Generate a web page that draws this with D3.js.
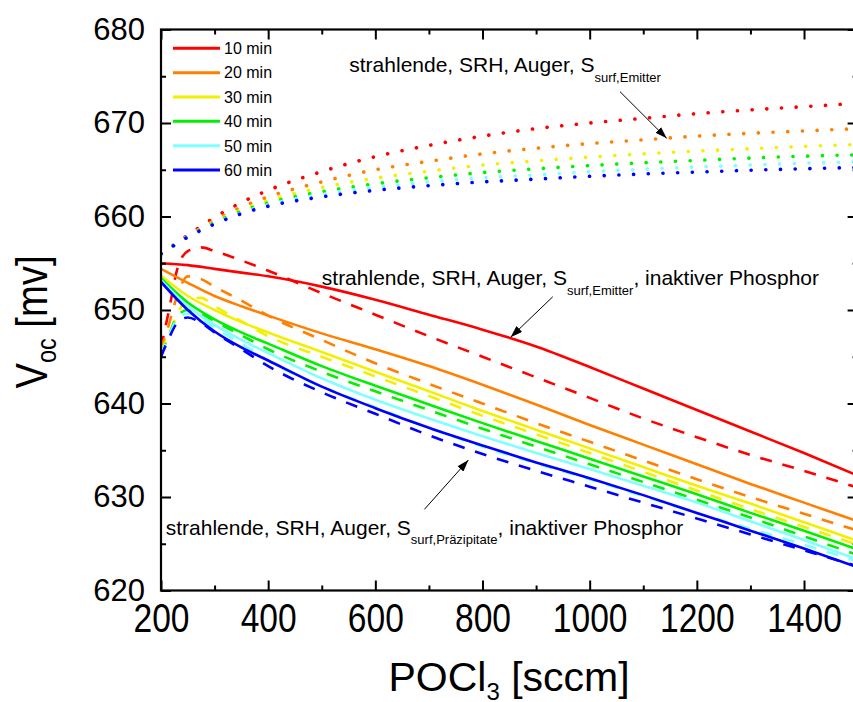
<!DOCTYPE html>
<html><head><meta charset="utf-8">
<script src="https://cdn.jsdelivr.net/npm/d3@7"></script>
<style>body{margin:0;background:#fff} svg text{font-family:"Liberation Sans",Arial,Helvetica,sans-serif;fill:#000}</style>
</head><body><svg id="c" width="853" height="702"></svg>
<script>
// ---------- data ----------
const times = ["10 min","20 min","30 min","40 min","50 min","60 min"];
const colors = ["#ff0000","#ff8000","#f0f000","#00f000","#80ffff","#0000ff"];

// x values (POCl3 flow, sccm) for dotted and solid curves
const poclA = [200,250,300,350,400,500,600,700,800,900,1000,1100,1200,1300,1400,1500];
// dotted: strahlende, SRH, Auger, S_surf,Emitter
const dot10 = [656.0,658.0,659.9,661.5,662.8,664.8,666.4,667.6,668.6,669.4,670.0,670.5,671.0,671.4,671.75,672.1];
const dot20 = [656.0,657.9,659.6,661.0,662.1,663.7,665.0,665.9,666.7,667.3,667.8,668.2,668.6,668.9,669.15,669.4];
const dot30 = [656.0,657.85,659.45,660.7,661.7,663.1,664.1,664.85,665.5,665.95,666.35,666.7,667.0,667.25,667.5,667.7];
const dot40 = [656.0,657.8,659.35,660.55,661.45,662.65,663.5,664.15,664.7,665.1,665.45,665.75,666.0,666.25,666.45,666.6];
const dot50 = [656.0,657.8,659.25,660.4,661.25,662.35,663.1,663.7,664.15,664.45,664.8,665.05,665.3,665.5,665.7,665.85];
const dot60 = [656.0,657.8,659.2,660.3,661.1,662.1,662.8,663.3,663.7,664.0,664.3,664.55,664.75,664.95,665.1,665.25];
// solid: ..., S_surf,Emitter, inaktiver Phosphor
const sol10 = [655.0,654.8,654.4,654.0,653.6,652.5,651.1,649.5,647.9,646.1,643.9,641.6,639.3,637.0,634.7,632.3];
const sol20 = [654.4,652.9,651.5,650.4,649.4,647.5,645.8,644.0,642.0,639.9,637.7,635.6,633.5,631.4,629.4,627.4];
const sol30 = [653.7,651.5,650.0,648.7,647.6,645.5,643.4,641.3,639.2,637.2,635.2,633.2,631.2,629.3,627.3,625.3];
const sol40 = [653.4,650.8,649.0,647.6,646.4,644.0,641.9,639.9,637.9,636.0,634.1,632.2,630.3,628.3,626.4,624.4];
const sol50 = [653.2,650.4,648.4,646.8,645.4,642.7,640.4,638.4,636.5,634.7,633.0,631.2,629.4,627.4,625.4,623.3];
const sol60 = [653.0,650.0,647.7,646.0,644.6,641.8,639.5,637.4,635.5,633.7,632.0,630.2,628.3,626.4,624.5,622.5];
// dashed: ..., S_surf,Präzipitate, inaktiver Phosphor
const poclB = [200,215,230,250,275,300,350,400,500,600,700,800,900,1000,1100,1200,1300,1400,1500];
const dash10 = [646.0,650.0,654.3,656.3,656.7,656.3,655.3,654.2,651.8,649.5,647.2,645.0,642.8,640.6,638.4,636.4,634.5,632.8,631.0];
const dash20 = [645.8,648.5,651.5,653.6,653.3,652.5,651.0,649.4,646.8,644.3,642.1,640.0,637.9,635.9,633.9,631.9,630.0,628.2,626.4];
const dash30 = [645.5,647.5,649.5,651.2,651.3,650.4,648.8,647.2,645.0,642.9,640.8,638.7,636.7,634.7,632.7,630.7,628.7,626.8,624.9];
const dash40 = [645.3,647.3,649.3,650.0,649.6,648.8,647.3,645.8,643.4,641.3,639.3,637.3,635.4,633.5,631.6,629.7,627.8,625.8,623.8];
const dash50 = [645.2,647.3,649.0,649.6,649.1,648.1,646.4,644.6,641.8,639.6,637.4,635.4,633.6,631.9,630.1,628.3,626.6,624.9,623.1];
const dash60 = [645.0,647.0,648.6,649.2,648.6,647.6,645.8,644.0,641.2,638.9,636.6,634.6,632.8,631.1,629.4,627.7,626.0,624.3,622.6];

const xTicks = [200,400,600,800,1000,1200,1400];
const xTickLabels = ["200","400","600","800","1000","1200","1400"];
const xMinor = [300,500,700,900,1100,1300];
const yTicks = [620,630,640,650,660,670,680];
const yTickLabels = ["620","630","640","650","660","670","680"];
const yMinor = [625,635,645,655,665,675];

// ---------- chart ----------
const svg = d3.select("#c");
const x = d3.scaleLinear().domain([200,1500]).range([161,857.6]);
const y = d3.scaleLinear().domain([620,680]).range([590.5,29.5]);
const X0 = x.range()[0], X1 = x.range()[1], Y0 = y.range()[1], Y1 = y.range()[0];

svg.append("defs").append("clipPath").attr("id","plot")
  .append("rect").attr("x",X0).attr("y",Y0).attr("width",X1-X0).attr("height",Y1-Y0);
svg.select("defs").append("marker").attr("id","arr").attr("viewBox","0 0 12 8")
  .attr("refX",12).attr("refY",4).attr("markerWidth",12).attr("markerHeight",8)
  .attr("markerUnits","userSpaceOnUse").attr("orient","auto")
  .append("path").attr("d","M0,0 L12,4 L0,8 Z").attr("fill","#000");

const gLines = svg.append("g").attr("clip-path","url(#plot)");
const line = d3.line().curve(d3.curveMonotoneX);
const dots = [dot10,dot20,dot30,dot40,dot50,dot60];
const sols = [sol10,sol20,sol30,sol40,sol50,sol60];
const dashes = [dash10,dash20,dash30,dash40,dash50,dash60];

dots.forEach((s,i)=>{
  gLines.append("path").attr("d",line(s.map((v,j)=>[x(poclA[j]),y(v)])))
    .attr("fill","none").attr("stroke",colors[i]).attr("stroke-width",3.6)
    .attr("stroke-linecap","round").attr("stroke-dasharray","0.1,14.6");
});
dashes.forEach((s,i)=>{
  gLines.append("path").attr("d",line(s.map((v,j)=>[x(poclB[j]),y(v)])))
    .attr("fill","none").attr("stroke",colors[i]).attr("stroke-width",2.6)
    .attr("stroke-dasharray","12,11");
});
sols.forEach((s,i)=>{
  gLines.append("path").attr("d",line(s.map((v,j)=>[x(poclA[j]),y(v)])))
    .attr("fill","none").attr("stroke",colors[i]).attr("stroke-width",2.6);
});

// axes
function styleAxis(g){ g.select(".domain").remove(); g.selectAll("line").attr("stroke","#000").attr("stroke-width",2); }
const gb = svg.append("g").attr("transform",`translate(0,${Y1})`)
  .call(d3.axisBottom(x).tickValues(xTicks).tickFormat((d,i)=>xTickLabels[i]).tickSizeInner(-10).tickSizeOuter(0).tickPadding(13));
styleAxis(gb);
gb.selectAll("text").attr("font-size",40).attr("transform","scale(0.84,1)");
svg.append("g").attr("transform",`translate(0,${Y1})`)
  .call(d3.axisBottom(x).tickValues(xMinor).tickFormat("").tickSizeInner(-5).tickSizeOuter(0)).call(styleAxis);
svg.append("g").attr("transform",`translate(0,${Y0})`)
  .call(d3.axisTop(x).tickValues(xTicks).tickFormat("").tickSizeInner(-10).tickSizeOuter(0)).call(styleAxis);
svg.append("g").attr("transform",`translate(0,${Y0})`)
  .call(d3.axisTop(x).tickValues(xMinor).tickFormat("").tickSizeInner(-5).tickSizeOuter(0)).call(styleAxis);
const gl = svg.append("g").attr("transform",`translate(${X0},0)`)
  .call(d3.axisLeft(y).tickValues(yTicks).tickFormat((d,i)=>yTickLabels[i]).tickSizeInner(-10).tickSizeOuter(0).tickPadding(16));
styleAxis(gl);
gl.selectAll("text").attr("font-size",31);
svg.append("g").attr("transform",`translate(${X0},0)`)
  .call(d3.axisLeft(y).tickValues(yMinor).tickFormat("").tickSizeInner(-5).tickSizeOuter(0)).call(styleAxis);
svg.append("g").attr("transform",`translate(${X1},0)`)
  .call(d3.axisRight(y).tickValues(yTicks).tickFormat("").tickSizeInner(-10).tickSizeOuter(0)).call(styleAxis);
svg.append("g").attr("transform",`translate(${X1},0)`)
  .call(d3.axisRight(y).tickValues(yMinor).tickFormat("").tickSizeInner(-5).tickSizeOuter(0)).call(styleAxis);
svg.append("rect").attr("x",X0).attr("y",Y0).attr("width",X1-X0).attr("height",Y1-Y0)
  .attr("fill","none").attr("stroke","#000").attr("stroke-width",2.2);

// axis titles
const xt = svg.append("text").attr("x",509).attr("y",691).attr("text-anchor","middle").attr("font-size",41);
xt.append("tspan").text("POCl");
xt.append("tspan").attr("font-size",24).attr("dy",9).text("3");
xt.append("tspan").attr("dy",-9).text(" [sccm]");
const yt = svg.append("text").attr("transform","translate(47,322) rotate(-90) scale(0.87,1)")
  .attr("text-anchor","middle").attr("font-size",44);
yt.append("tspan").text("V");
yt.append("tspan").attr("font-size",27).attr("dy",9).text("oc");
yt.append("tspan").attr("dy",-9).text(" [mv]");

// legend
const lg = svg.append("g");
times.forEach((t,i)=>{
  const ly = 48.3 + i*24.35;
  lg.append("line").attr("x1",173).attr("x2",220).attr("y1",ly).attr("y2",ly)
    .attr("stroke",colors[i]).attr("stroke-width",3);
  lg.append("text").attr("x",224).attr("y",ly+5.8).attr("font-size",16).text(t);
});

// annotations (positions in data units)
function label(u,v,sub,tail){
  const t = svg.append("text").attr("x",x(u)).attr("y",y(v)).attr("font-size",21);
  t.append("tspan").text("strahlende, SRH, Auger, S");
  t.append("tspan").attr("font-size",13).attr("dy",9.5).text(sub);
  if(tail){ t.append("tspan").attr("dy",-9.5).text(tail); }
}
function arrow(u1,v1,u2,v2){
  svg.append("line").attr("x1",x(u1)).attr("y1",y(v1)).attr("x2",x(u2)).attr("y2",y(v2))
    .attr("stroke","#000").attr("stroke-width",1).attr("marker-end","url(#arr)");
}
label(551.4,675.42,"surf,Emitter",null);
arrow(1056.6,673.35,1143.7,668.36);
label(500.1,652.67,"surf,Emitter",", inaktiver Phosphor");
arrow(931.2,651.42,852.4,647.08);
label(208.8,625.94,"surf,Präzipitate",", inaktiver Phosphor");
arrow(691.6,628.68,773.7,633.96);
</script></body></html>
